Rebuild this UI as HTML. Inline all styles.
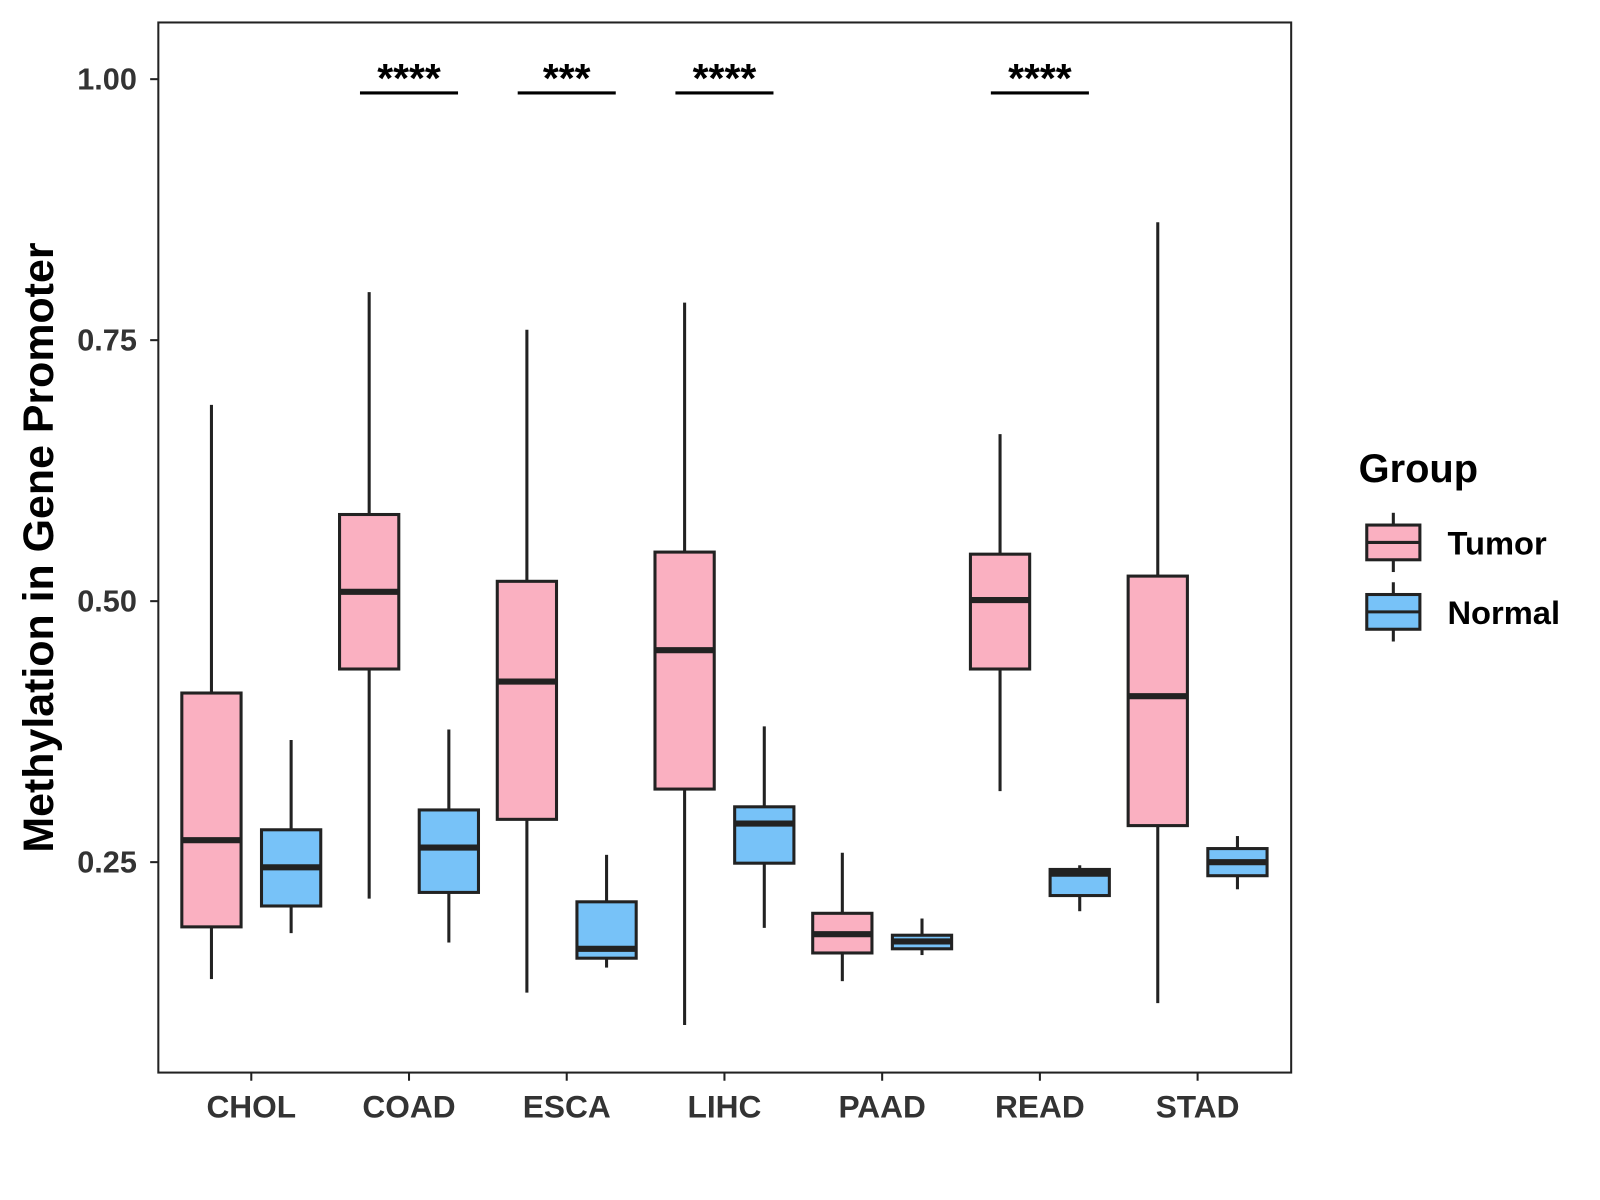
<!DOCTYPE html>
<html><head><meta charset="utf-8"><style>
html,body{margin:0;padding:0;background:#fff;}
svg{display:block;font-family:"Liberation Sans",Arial,sans-serif;}
</style></head><body>
<svg id="chart" width="1600" height="1200" viewBox="0 0 1600 1200">
<g transform="scale(1.0215)">
<rect x="155" y="22" width="1109" height="1028" fill="#fff" stroke="#222" stroke-width="2"/>
<g id="marks"></g>
<g id="axes"></g>
<text x="0" y="0" transform="translate(52,536) rotate(-90)" text-anchor="middle" font-size="42" font-weight="bold" fill="#000">Methylation in Gene Promoter</text>
<g>
<text x="1330" y="472" font-size="39" font-weight="bold" fill="#000">Group</text>
<g>
<line x1="1364" y1="502" x2="1364" y2="560" stroke="#222" stroke-width="3"/>
<rect x="1338" y="514" width="52" height="34" fill="#FAB0C1" stroke="#222" stroke-width="3"/>
<line x1="1338" y1="531" x2="1390" y2="531" stroke="#222" stroke-width="3"/>
<text x="1417" y="543" font-size="32" font-weight="bold" fill="#000">Tumor</text>
</g>
<g>
<line x1="1364" y1="570" x2="1364" y2="628" stroke="#222" stroke-width="3"/>
<rect x="1338" y="582" width="52" height="34" fill="#77C2F8" stroke="#222" stroke-width="3"/>
<line x1="1338" y1="599" x2="1390" y2="599" stroke="#222" stroke-width="3"/>
<text x="1417" y="611" font-size="32" font-weight="bold" fill="#000">Normal</text>
</g>
</g>
</g>
</svg>
<script>
const categories = ["CHOL","COAD","ESCA","LIHC","PAAD","READ","STAD"];
// [low, q1, median, q3, high]
const tumorStats = [
 [0.138,0.188,0.271,0.412,0.688],
 [0.215,0.435,0.509,0.583,0.796],
 [0.125,0.291,0.423,0.519,0.760],
 [0.094,0.320,0.453,0.547,0.786],
 [0.136,0.163,0.181,0.201,0.259],
 [0.318,0.435,0.501,0.545,0.660],
 [0.115,0.285,0.409,0.524,0.863]
];
const normalStats = [
 [0.182,0.208,0.245,0.281,0.367],
 [0.173,0.221,0.264,0.300,0.377],
 [0.149,0.158,0.167,0.212,0.257],
 [0.187,0.249,0.287,0.303,0.380],
 [0.161,0.167,0.174,0.180,0.196],
 [0.203,0.218,0.239,0.243,0.247],
 [0.224,0.237,0.250,0.263,0.275]
];
const sigLabels = ["","****","***","****","","****",""];
const yTicks = [0.25,0.50,0.75,1.00];
const yTickLabels = ["0.25","0.50","0.75","1.00"];

const NS="http://www.w3.org/2000/svg";
function y(v){return 844-(v-0.25)*1022;}
function x(i){return 246+i*154.4;}
function mk(tag,attrs,parent){const e=document.createElementNS(NS,tag);for(const k in attrs)e.setAttribute(k,attrs[k]);parent.appendChild(e);return e;}
const marks=document.getElementById('marks'), axes=document.getElementById('axes');
function box(cx,s,fill,name){
  const g=mk('g',{},marks);
  
  
  mk('line',{x1:cx,x2:cx,y1:y(s[4]),y2:y(s[3]),stroke:'#222','stroke-width':3},g);
  mk('line',{x1:cx,x2:cx,y1:y(s[1]),y2:y(s[0]),stroke:'#222','stroke-width':3},g);
  mk('rect',{x:cx-29,y:y(s[3]),width:58,height:y(s[1])-y(s[3]),fill:fill,stroke:'#222','stroke-width':3},g);
  mk('line',{x1:cx-29,x2:cx+29,y1:y(s[2]),y2:y(s[2]),stroke:'#222','stroke-width':6},g);
}
categories.forEach((c,i)=>{
  box(x(i)-39,tumorStats[i],'#FAB0C1','box-tumor-'+c.toLowerCase());
  box(x(i)+39,normalStats[i],'#77C2F8','box-normal-'+c.toLowerCase());
  mk('line',{x1:x(i),x2:x(i),y1:1050,y2:1058,stroke:'#222','stroke-width':2},axes);
  const t=mk('text',{x:x(i),y:1094,'text-anchor':'middle','font-size':31,'font-weight':'bold',fill:'#333'},axes);
  t.textContent=c;
  
  
  if(sigLabels[i]){
    const sg=mk('g',{},marks);
    
    
    mk('line',{x1:x(i)-48,x2:x(i)+48,y1:91,y2:91,stroke:'#000','stroke-width':3},sg);
    const st=mk('text',{x:x(i),y:90,'text-anchor':'middle','font-size':40,'font-weight':'bold',fill:'#000'},sg);
    st.textContent=sigLabels[i];
  }
});
yTicks.forEach((v,i)=>{
  mk('line',{x1:147,x2:155,y1:y(v),y2:y(v),stroke:'#222','stroke-width':2},axes);
  const t=mk('text',{x:134,y:y(v)+10,'text-anchor':'end','font-size':30,'font-weight':'bold',fill:'#333'},axes);
  t.textContent=yTickLabels[i];
  
  
});
</script>
</body></html>
